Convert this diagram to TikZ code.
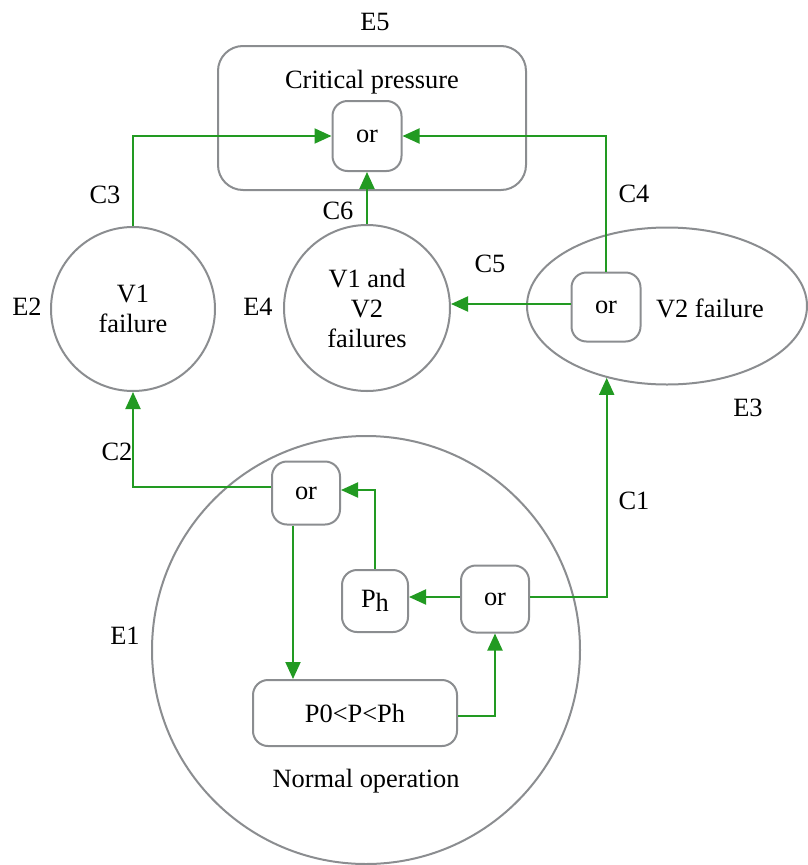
\documentclass[tikz,border=0pt]{standalone}
\usepackage{fontspec}
\setmainfont{LiberationSerif}[Extension=.ttf, UprightFont=*-Regular, BoldFont=*-Bold]
\usetikzlibrary{arrows.meta,shapes.geometric}
\definecolor{edgegrey}{HTML}{8B8D90}
\definecolor{flowgreen}{HTML}{229A22}
\begin{document}
\begin{tikzpicture}[x=1pt,y=-1pt,
  every node/.style={font=\rmfamily\fontsize{26.4}{30}\selectfont, inner sep=0pt},
  gate/.style={draw=edgegrey, line width=2pt, rounded corners=15pt,
               minimum width=68pt, minimum height=66pt},
  state/.style={draw=edgegrey, line width=2pt, circle, align=center},
  flow/.style={draw=flowgreen, line width=2pt,
               -{Triangle[length=17pt,width=15pt]}}]
\useasboundingbox (0,0) rectangle (807,865);

% E5: critical pressure
\node[draw=edgegrey, line width=2pt, rounded corners=25pt,
      minimum width=308pt, minimum height=144pt] (E5) at (372,118) {};
\node (e5txt) at (372,82) {Critical pressure};
\node[gate, minimum width=69pt, minimum height=70pt] (or5) at (367,136) {or};

% E2, E4: failure states
\node[state, minimum size=164pt] (E2) at (133,309) {V1\\failure};
\node[state, minimum size=166pt] (E4) at (367,308) {V1 and\\V2\\failures};

% E3: V2 failure
\node[draw=edgegrey, line width=2pt, ellipse,
      minimum width=280pt, minimum height=157pt] (E3) at (667,306) {};
\node (e3txt) at (710,308) {V2 failure};
\node[gate, minimum width=69pt, minimum height=69pt] (or3) at (606,307) {or};

% E1: normal operation
\node[state, minimum size=428pt] (E1) at (366,650) {};
\node[gate, minimum height=63pt] (orA) at (306,493) {or};
\node[gate, minimum width=66pt, minimum height=62pt] (Ph) at (375,601) {P\raisebox{-0.15em}{h}};
\node[gate, minimum height=67pt] (orB) at (495,599) {or};
\node[gate, minimum width=204pt, minimum height=66pt] (P0) at (355,713) {P0<P<Ph};
\node (e1txt) at (366,781) {Normal operation};

% state labels
\node (lE1) at (125,636) {E1};
\node (lE2) at (27,307) {E2};
\node (lE3) at (748,408) {E3};
\node (lE4) at (258,307) {E4};
\node (lE5) at (375,22) {E5};

% connector labels
\node (lC1) at (634,501) {C1};
\node (lC2) at (117,452) {C2};
\node (lC3) at (105,195) {C3};
\node (lC4) at (634,194) {C4};
\node (lC5) at (490,264) {C5};
\node (lC6) at (338,211) {C6};

% connectors between states
\draw[flow] (E2.north) |- (or5.west);
\draw[flow] (or3.north) |- (or5.east);
\draw[flow] (E4.north) -- (or5.south);
\draw[flow] ([yshift=3pt]or3.west) -- ([yshift=3pt]or3.west -| E4.east);
\draw[flow] ([yshift=6pt]orA.west) -| (E2.south);
\draw[flow] ([yshift=2pt]orB.east) -| (E3.230);

% flow inside normal operation
\draw[flow] ([xshift=-13pt]orA.south) -- ([xshift=-13pt]orA.south |- P0.north);
\draw[flow] ([yshift=-3pt]P0.east) -| (orB.south);
\draw[flow] ([yshift=2pt]orB.west) -- ([yshift=2pt]orB.west -| Ph.east);
\draw[flow] (Ph.north) |- ([yshift=3pt]orA.east);
\end{tikzpicture}
\end{document}
